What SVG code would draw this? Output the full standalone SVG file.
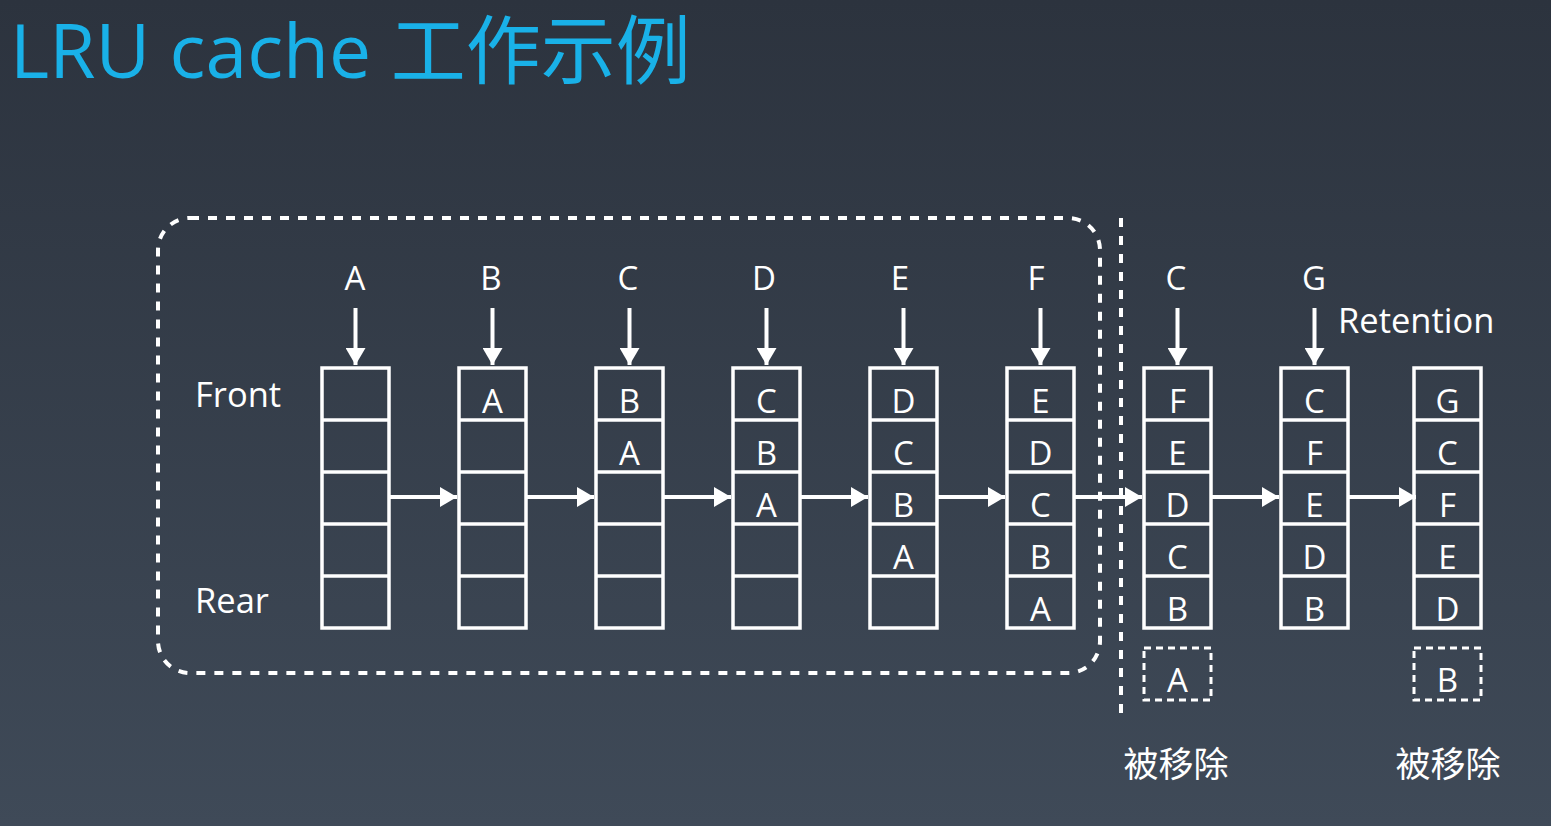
<svg xmlns="http://www.w3.org/2000/svg" width="1551" height="826" viewBox="0 0 1551 826">
<defs>
<linearGradient id="bg" x1="0" y1="0" x2="0" y2="1">
<stop offset="0" stop-color="#2c333e"/>
<stop offset="1" stop-color="#3f4a58"/>
</linearGradient>
<marker id="ah" markerUnits="userSpaceOnUse" markerWidth="18" markerHeight="20" refX="17" refY="10" orient="auto">
<path d="M0,0 L17,10 L0,20 Z" fill="#fff"/>
</marker>
<g id="stack">
<rect x="0" y="0" width="67" height="260" class="cell"/>
<line x1="0" y1="52" x2="67" y2="52" class="cell"/>
<line x1="0" y1="104" x2="67" y2="104" class="cell"/>
<line x1="0" y1="156" x2="67" y2="156" class="cell"/>
<line x1="0" y1="208" x2="67" y2="208" class="cell"/>
</g>
</defs>
<style>
.cell{fill:none;stroke:#fff;stroke-width:3.5}
.t{font-family:"Open Sans","Noto Sans","Noto Sans CJK SC",sans-serif;fill:#fff;font-size:33px}
.c{text-anchor:middle}
.lbl{font-family:"Open Sans","Noto Sans","Noto Sans CJK SC",sans-serif;fill:#fff;font-size:34.5px}
.cjk{font-family:"Noto Sans CJK SC",sans-serif;fill:#fff;font-size:35px;text-anchor:middle}
.arr{stroke:#fff;stroke-width:4;fill:none;marker-end:url(#ah)}
.dash{fill:none;stroke:#fff;stroke-width:4;stroke-dasharray:9 9}
.sdash{fill:none;stroke:#fff;stroke-width:3;stroke-dasharray:7 5}
</style>
<rect width="1551" height="826" fill="url(#bg)"/>
<text x="10" y="78" font-family="'Open Sans','Noto Sans CJK SC',sans-serif" font-size="75" fill="#19b1e8">LRU cache 工作示例</text>

<g id="frame">
<rect x="158" y="218" width="942" height="455" rx="32" class="dash"/>
<line x1="1121" y1="218" x2="1121" y2="716" class="dash"/>
</g>

<g id="labels">
<text x="195" y="407" class="lbl">Front</text>
<text x="195" y="613" class="lbl">Rear</text>
<text x="1338" y="333" class="lbl">Retention</text>
<text x="1176" y="777" class="cjk">被移除</text>
<text x="1448" y="777" class="cjk">被移除</text>
</g>

<g id="inputs" class="t c">
<text x="355" y="290">A</text>
<text x="491" y="290">B</text>
<text x="628" y="290">C</text>
<text x="764" y="290">D</text>
<text x="900" y="290">E</text>
<text x="1036" y="290">F</text>
<text x="1176" y="290">C</text>
<text x="1314" y="290">G</text>
</g>

<g id="s1"><use href="#stack" x="322" y="368"/></g>
<g id="s2"><use href="#stack" x="459" y="368"/>
<text class="t c" x="492.5" y="413">A</text></g>
<g id="s3"><use href="#stack" x="596" y="368"/>
<text class="t c" x="629.5" y="413">B</text><text class="t c" x="629.5" y="465">A</text></g>
<g id="s4"><use href="#stack" x="733" y="368"/>
<text class="t c" x="766.5" y="413">C</text><text class="t c" x="766.5" y="465">B</text><text class="t c" x="766.5" y="517">A</text></g>
<g id="s5"><use href="#stack" x="870" y="368"/>
<text class="t c" x="903.5" y="413">D</text><text class="t c" x="903.5" y="465">C</text><text class="t c" x="903.5" y="517">B</text><text class="t c" x="903.5" y="569">A</text></g>
<g id="s6"><use href="#stack" x="1007" y="368"/>
<text class="t c" x="1040.5" y="413">E</text><text class="t c" x="1040.5" y="465">D</text><text class="t c" x="1040.5" y="517">C</text><text class="t c" x="1040.5" y="569">B</text><text class="t c" x="1040.5" y="621">A</text></g>
<g id="s7"><use href="#stack" x="1144" y="368"/>
<text class="t c" x="1177.5" y="413">F</text><text class="t c" x="1177.5" y="465">E</text><text class="t c" x="1177.5" y="517">D</text><text class="t c" x="1177.5" y="569">C</text><text class="t c" x="1177.5" y="621">B</text></g>
<g id="s8"><use href="#stack" x="1281" y="368"/>
<text class="t c" x="1314.5" y="413">C</text><text class="t c" x="1314.5" y="465">F</text><text class="t c" x="1314.5" y="517">E</text><text class="t c" x="1314.5" y="569">D</text><text class="t c" x="1314.5" y="621">B</text></g>
<g id="s9"><use href="#stack" x="1414" y="368"/>
<text class="t c" x="1447.5" y="413">G</text><text class="t c" x="1447.5" y="465">C</text><text class="t c" x="1447.5" y="517">F</text><text class="t c" x="1447.5" y="569">E</text><text class="t c" x="1447.5" y="621">D</text></g>

<g id="evictA"><rect x="1144" y="648" width="67" height="52" class="sdash"/><text class="t c" x="1177.5" y="692">A</text></g>
<g id="evictB"><rect x="1414" y="648" width="67" height="52" class="sdash"/><text class="t c" x="1447.5" y="692">B</text></g>

<g id="connectors">
<line x1="355.5" y1="308" x2="355.5" y2="365" class="arr"/>
<line x1="492.5" y1="308" x2="492.5" y2="365" class="arr"/>
<line x1="629.5" y1="308" x2="629.5" y2="365" class="arr"/>
<line x1="766.5" y1="308" x2="766.5" y2="365" class="arr"/>
<line x1="903.5" y1="308" x2="903.5" y2="365" class="arr"/>
<line x1="1040.5" y1="308" x2="1040.5" y2="365" class="arr"/>
<line x1="1177.5" y1="308" x2="1177.5" y2="365" class="arr"/>
<line x1="1314.5" y1="308" x2="1314.5" y2="365" class="arr"/>
<line x1="389" y1="497" x2="457" y2="497" class="arr"/>
<line x1="526" y1="497" x2="594" y2="497" class="arr"/>
<line x1="663" y1="497" x2="731" y2="497" class="arr"/>
<line x1="800" y1="497" x2="868" y2="497" class="arr"/>
<line x1="937" y1="497" x2="1005" y2="497" class="arr"/>
<line x1="1074" y1="497" x2="1142" y2="497" class="arr"/>
<line x1="1211" y1="497" x2="1279" y2="497" class="arr"/>
<line x1="1348" y1="497" x2="1416" y2="497" class="arr"/>
</g>
</svg>
